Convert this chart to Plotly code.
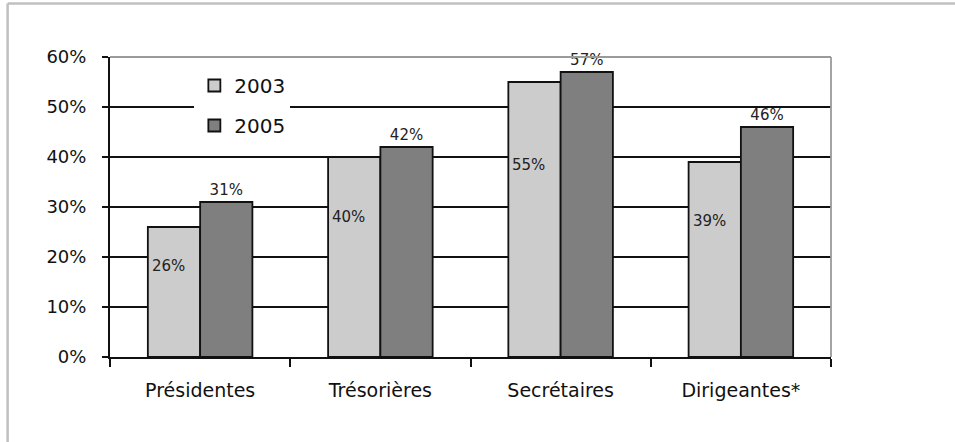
import plotly.graph_objects as go

categories = ["Présidentes", "Trésorières", "Secrétaires", "Dirigeantes*"]
years = ["2003", "2005"]
values_2003 = [0.26, 0.40, 0.55, 0.39]
values_2005 = [0.31, 0.42, 0.57, 0.46]
y_ticks = [0, 0.1, 0.2, 0.3, 0.4, 0.5, 0.6]

FONT = "DejaVu Sans"
BARGAP = 0.42

fig = go.Figure()
fig.add_trace(go.Bar(
    name=years[0], x=categories, y=values_2003,
    marker=dict(color="#cccccc", line=dict(color="#111111", width=1.8)),
    legendgroup="a",
))
fig.add_trace(go.Bar(
    name=years[1], x=categories, y=values_2005,
    marker=dict(color="#7f7f7f", line=dict(color="#111111", width=1.8)),
    text=[f"{v:.0%}" for v in values_2005], textposition="outside",
    textfont=dict(family=FONT, size=15, color="#222222"),
    cliponaxis=False, legendgroup="b",
))

half = (1 - BARGAP) / 2
for i, v in enumerate(values_2003):
    fig.add_annotation(
        x=i - half, y=v * 0.7, text=f"{v:.0%}", showarrow=False,
        xanchor="left", xshift=2, font=dict(family=FONT, size=15, color="#222222"),
    )

# plot frame top/right (gray) and outer figure border (top/left)
fig.add_shape(type="line", xref="paper", yref="paper", x0=0, x1=1, y0=1, y1=1,
              line=dict(color="#9a9a9a", width=1.8))
fig.add_shape(type="line", xref="paper", yref="paper", x0=1, x1=1, y0=0, y1=1,
              line=dict(color="#9a9a9a", width=1.8))
fig.add_shape(type="line", xref="paper", yref="paper", x0=-0.142, x1=1.2, y0=1.178, y1=1.178,
              line=dict(color="#c0c0c0", width=2.5))
fig.add_shape(type="line", xref="paper", yref="paper", x0=-0.142, x1=-0.142, y0=-0.3, y1=1.178,
              line=dict(color="#c0c0c0", width=2.5))

fig.update_layout(
    width=955, height=442,
    margin=dict(l=110, r=124, t=57, b=85),
    paper_bgcolor="white", plot_bgcolor="white",
    barmode="group", bargap=BARGAP, bargroupgap=0,
    font=dict(family=FONT, color="#111111"),
    legend=dict(
        x=0.117, y=0.97, xanchor="left", yanchor="top",
        bgcolor="white", borderwidth=0,
        font=dict(family=FONT, size=20, color="#111111"),
        traceorder="grouped", tracegroupgap=11, itemwidth=30,
    ),
    xaxis=dict(
        type="category", showline=True, linecolor="#111111", linewidth=2,
        ticks="outside", tickson="boundaries", ticklen=8, tickwidth=2, tickcolor="#111111",
        tickfont=dict(family=FONT, size=19, color="#111111"),
        ticklabelstandoff=15,
        showgrid=False,
    ),
    yaxis=dict(
        range=[0, 0.6], tickvals=y_ticks, tickformat=".0%",
        showline=True, linecolor="#111111", linewidth=2,
        ticks="outside", ticklen=6, tickwidth=2, tickcolor="#111111",
        tickfont=dict(family=FONT, size=18, color="#111111"),
        ticklabelstandoff=12,
        showgrid=True, gridcolor="#111111", gridwidth=1.8,
        zeroline=False,
    ),
)

fig.write_html("out.html", config={"displayModeBar": False},
               post_script="document.body.style.margin='0';")
